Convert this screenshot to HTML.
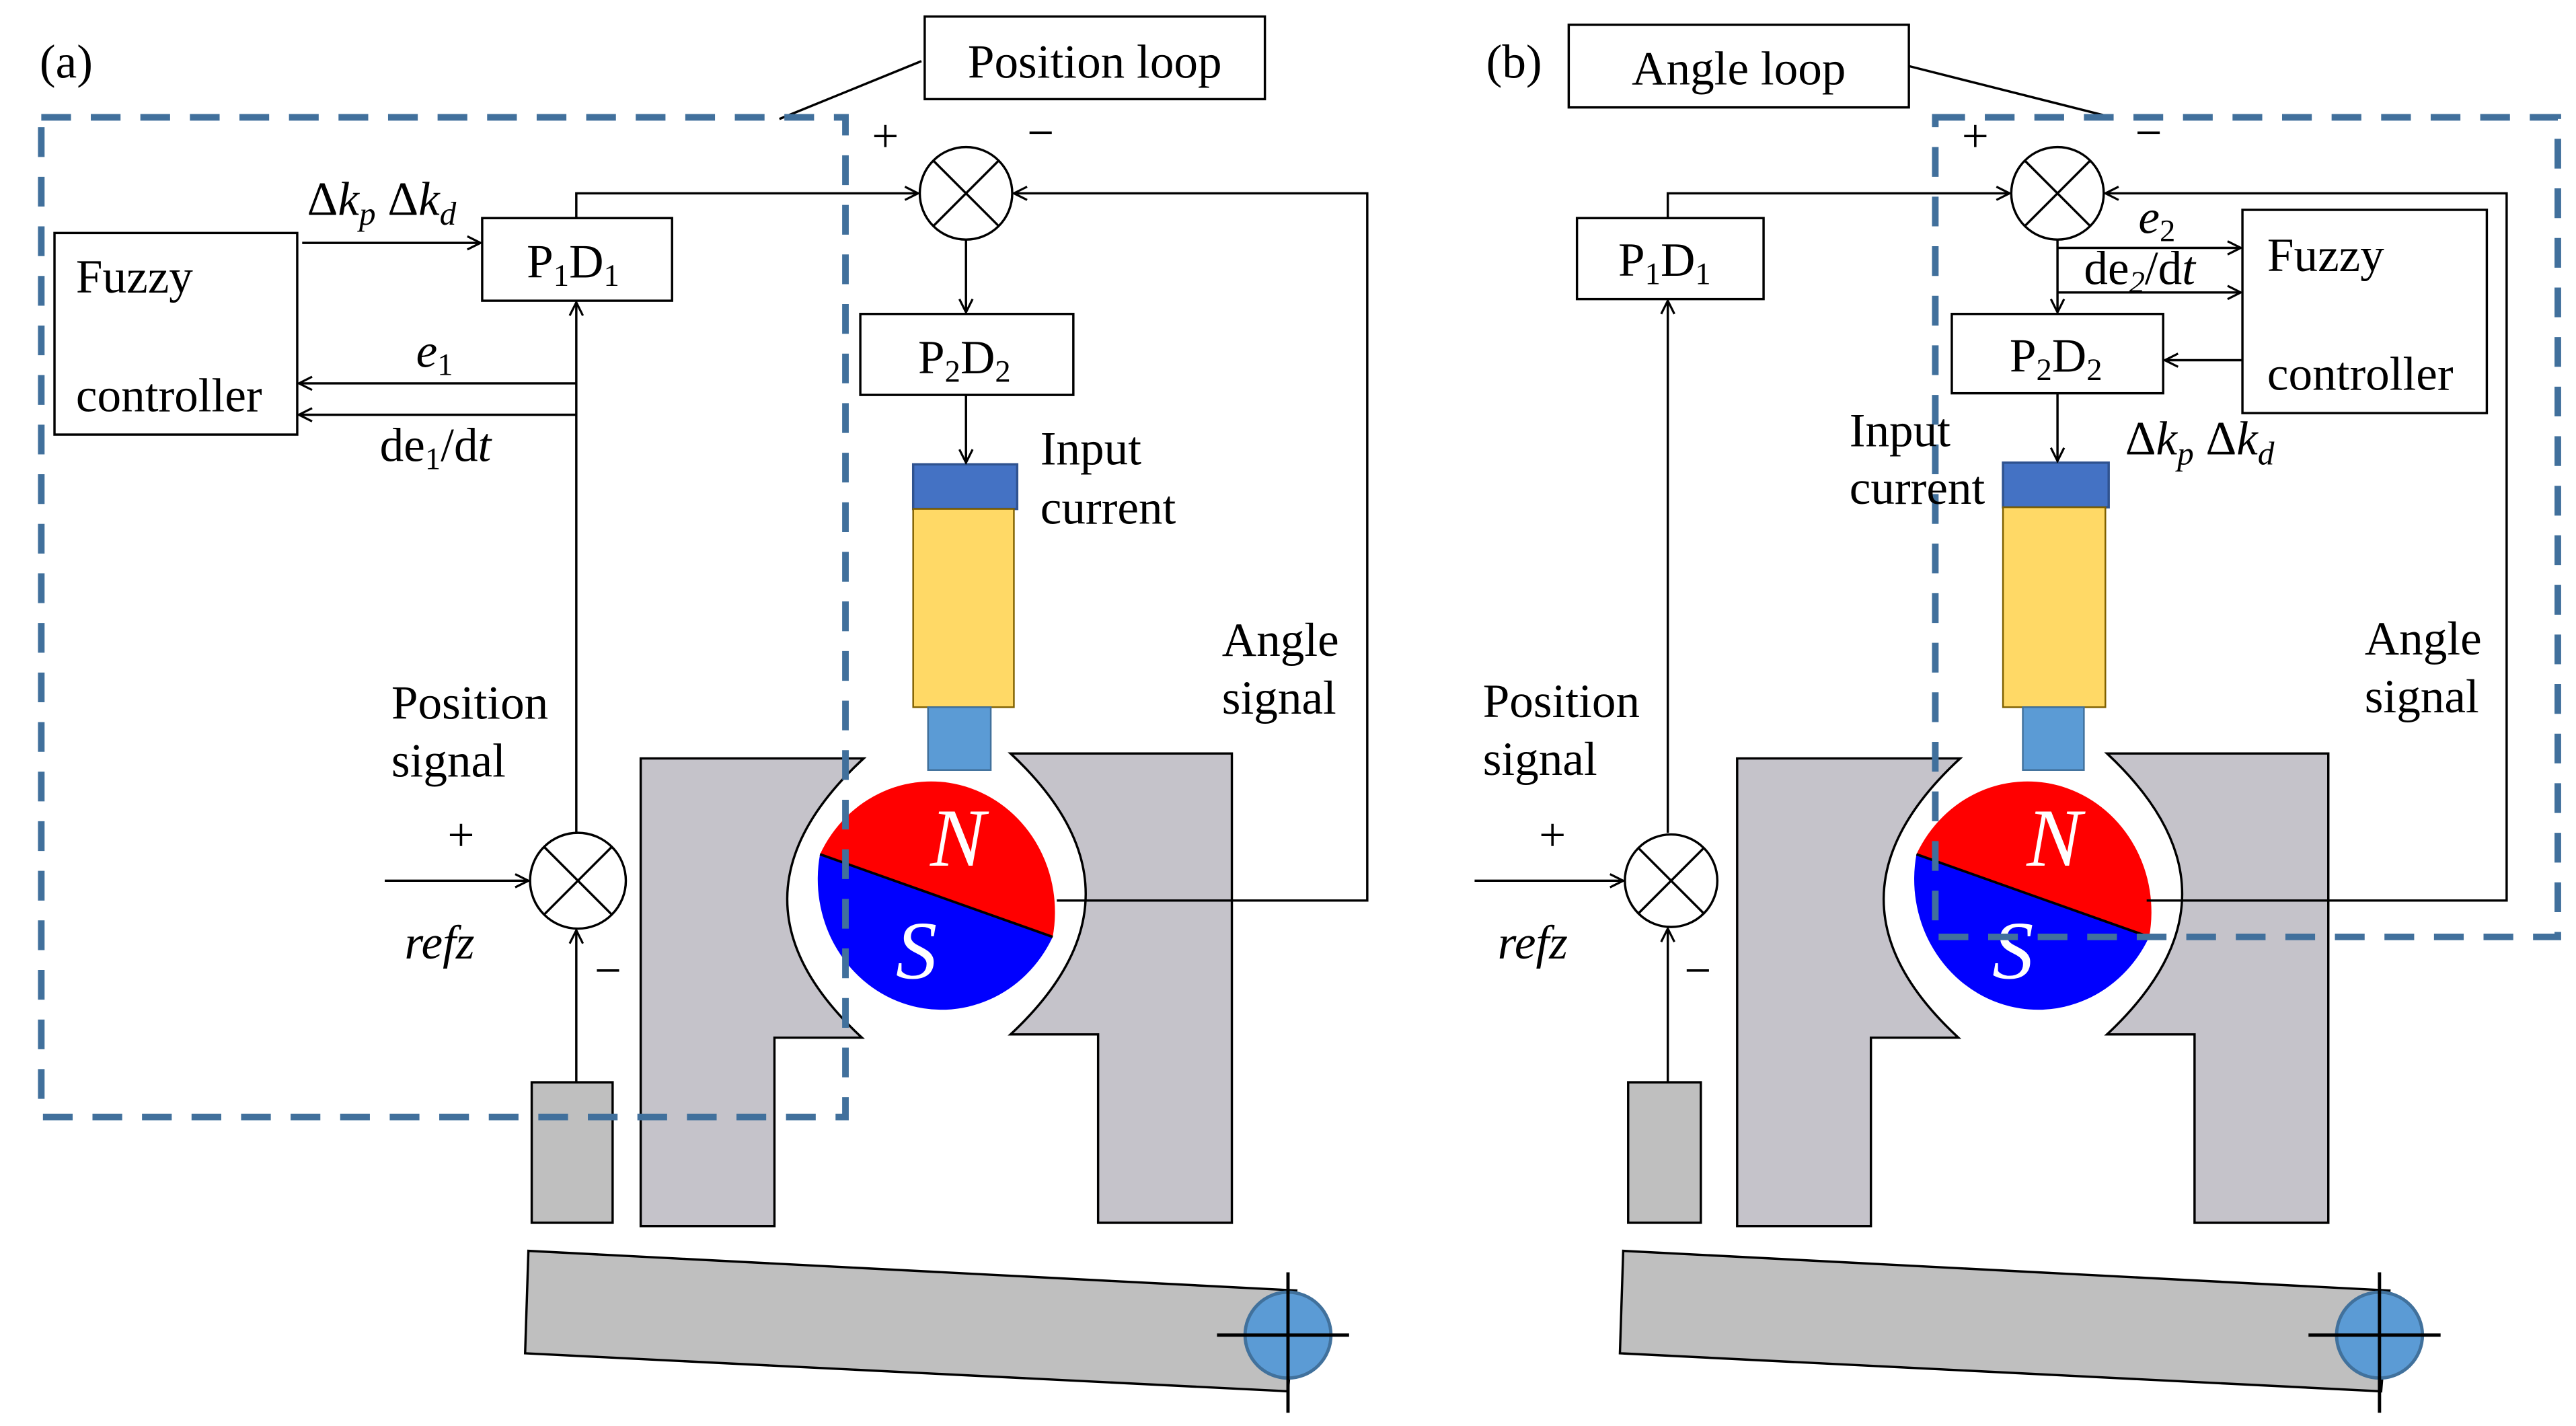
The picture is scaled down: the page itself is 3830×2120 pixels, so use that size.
<!DOCTYPE html>
<html><head><meta charset="utf-8"><style>
html,body{margin:0;padding:0;background:#fff;}
svg{display:block;}
text{font-family:"Liberation Serif",serif;fill:#000;}
</style></head><body>
<svg width="3830" height="2120" viewBox="0 0 1560 863" preserveAspectRatio="none" xmlns="http://www.w3.org/2000/svg">
<defs>
<marker id="ar" markerWidth="10" markerHeight="10" refX="9" refY="5" orient="auto" markerUnits="userSpaceOnUse">
<path d="M1,1 L9,5 L1,9" fill="none" stroke="#000" stroke-width="1.3"/>
</marker>
</defs>
<g stroke="#000" stroke-width="1.4" fill="none">

<path d="M388,459 L523,459 Q431,544 522,628 L469,628 L469,742 L388,742 Z" fill="#C5C3CA"/>
<path d="M612,456 L746,456 L746,740 L665,740 L665,626 L612,626 Q703,541 612,456 Z" fill="#C5C3CA"/>
<path d="M496.6,517 A75,79 0 0 1 637.5,567 Z" fill="#FF0000" stroke="none"/>
<path d="M496.6,517 L637.5,567 A75,79 0 0 1 496.6,517 Z" fill="#0000FF" stroke="none"/>
<line x1="496.6" y1="517" x2="637.5" y2="567" stroke-width="1.5"/>
<rect x="553" y="281" width="63" height="27" fill="#4472C4" stroke="#2F528F"/>
<rect x="553" y="308" width="61" height="120" fill="#FFD966" stroke="#7F6000" stroke-width="1"/>
<rect x="562" y="428" width="38" height="38" fill="#5B9BD5" stroke="#41719C" stroke-width="1"/>
<path d="M320,757 L785,781 L780,842 L318,819 Z" fill="#BFBFBF"/>
<circle cx="780" cy="808" r="26" fill="#5B9BD5" stroke="#41719C" stroke-width="2"/>
<line x1="737" y1="808" x2="817" y2="808" stroke-width="2"/>
<line x1="780" y1="770" x2="780" y2="855" stroke-width="2"/>
<rect x="322" y="655" width="49" height="85" fill="#BFBFBF"/>
<rect x="560" y="10" width="206" height="50" fill="#fff"/>
<line x1="558" y1="37" x2="472" y2="72"/>
<rect x="33" y="141" width="147" height="122" fill="#fff"/>
<rect x="292" y="132" width="115" height="50" fill="#fff"/>
<rect x="521" y="190" width="129" height="49" fill="#fff"/>
<circle cx="585" cy="117" r="28" fill="#fff"/>
<line x1="565.2" y1="97.2" x2="604.8" y2="136.8"/><line x1="604.8" y1="97.2" x2="565.2" y2="136.8"/>
<circle cx="350" cy="533" r="29" fill="#fff"/>
<line x1="329.5" y1="512.5" x2="370.5" y2="553.5"/><line x1="370.5" y1="512.5" x2="329.5" y2="553.5"/>
<line x1="183" y1="147" x2="291" y2="147" marker-end="url(#ar)"/>
<line x1="349" y1="232" x2="181" y2="232" marker-end="url(#ar)"/>
<line x1="349" y1="251" x2="181" y2="251" marker-end="url(#ar)"/>
<line x1="349" y1="504" x2="349" y2="183" marker-end="url(#ar)"/>
<polyline points="349,132 349,117 556,117" marker-end="url(#ar)"/>
<polyline points="640,545 828,545 828,117 614,117" marker-end="url(#ar)"/>
<line x1="585" y1="145" x2="585" y2="189" marker-end="url(#ar)"/>
<line x1="585" y1="239" x2="585" y2="280" marker-end="url(#ar)"/>
<line x1="233" y1="533" x2="320" y2="533" marker-end="url(#ar)"/>
<line x1="349" y1="655" x2="349" y2="563" marker-end="url(#ar)"/>

<path d="M1052,459 L1187,459 Q1095,544 1186,628 L1133,628 L1133,742 L1052,742 Z" fill="#C5C3CA"/>
<path d="M1276,456 L1410,456 L1410,740 L1329,740 L1329,626 L1276,626 Q1367,541 1276,456 Z" fill="#C5C3CA"/>
<path d="M1160.6,517 A75,79 0 0 1 1301.5,567 Z" fill="#FF0000" stroke="none"/>
<path d="M1160.6,517 L1301.5,567 A75,79 0 0 1 1160.6,517 Z" fill="#0000FF" stroke="none"/>
<line x1="1160.6" y1="517" x2="1301.5" y2="567" stroke-width="1.5"/>
<rect x="1213" y="280" width="64" height="27" fill="#4472C4" stroke="#2F528F"/>
<rect x="1213" y="307" width="62" height="121" fill="#FFD966" stroke="#7F6000" stroke-width="1"/>
<rect x="1225" y="428" width="37" height="38" fill="#5B9BD5" stroke="#41719C" stroke-width="1"/>
<path d="M983,757 L1447,781 L1442,842 L981,819 Z" fill="#BFBFBF"/>
<circle cx="1441" cy="808" r="26" fill="#5B9BD5" stroke="#41719C" stroke-width="2"/>
<line x1="1398" y1="808" x2="1478" y2="808" stroke-width="2"/>
<line x1="1441" y1="770" x2="1441" y2="855" stroke-width="2"/>
<rect x="986" y="655" width="44" height="85" fill="#BFBFBF"/>
<rect x="950" y="15" width="206" height="50" fill="#fff"/>
<line x1="1156" y1="40" x2="1275" y2="70"/>
<rect x="955" y="132" width="113" height="49" fill="#fff"/>
<rect x="1358" y="127" width="148" height="123" fill="#fff"/>
<rect x="1182" y="190" width="128" height="48" fill="#fff"/>
<circle cx="1246" cy="117" r="28" fill="#fff"/>
<line x1="1226.2" y1="97.2" x2="1265.8" y2="136.8"/><line x1="1265.8" y1="97.2" x2="1226.2" y2="136.8"/>
<circle cx="1012" cy="533" r="28" fill="#fff"/>
<line x1="992.2" y1="513.2" x2="1031.8" y2="552.8"/><line x1="1031.8" y1="513.2" x2="992.2" y2="552.8"/>
<polyline points="1010,132 1010,117 1217,117" marker-end="url(#ar)"/>
<polyline points="1300,545 1518,545 1518,117 1275,117" marker-end="url(#ar)"/>
<line x1="1246" y1="145" x2="1246" y2="189" marker-end="url(#ar)"/>
<line x1="1246" y1="150" x2="1357" y2="150" marker-end="url(#ar)"/>
<line x1="1246" y1="177" x2="1357" y2="177" marker-end="url(#ar)"/>
<line x1="1358" y1="218" x2="1311" y2="218" marker-end="url(#ar)"/>
<line x1="1246" y1="238" x2="1246" y2="279" marker-end="url(#ar)"/>
<line x1="893" y1="533" x2="983" y2="533" marker-end="url(#ar)"/>
<line x1="1010" y1="504" x2="1010" y2="182" marker-end="url(#ar)"/>
<line x1="1010" y1="655" x2="1010" y2="562" marker-end="url(#ar)"/>
</g>

<g font-style="italic" font-size="50" text-anchor="middle">
<text x="580" y="524" font-family="Liberation Serif, serif" style="fill:#fff">N</text>
<text x="555" y="592" font-family="Liberation Serif, serif" style="fill:#fff">S</text>
<text x="1244" y="524" font-family="Liberation Serif, serif" style="fill:#fff">N</text>
<text x="1219" y="592" font-family="Liberation Serif, serif" style="fill:#fff">S</text>
</g>

<rect x="25" y="71" width="487" height="605" fill="none" stroke="#41709C" stroke-width="4" stroke-dasharray="18,12"/>
<rect x="1172" y="71" width="377" height="496" fill="none" stroke="#41709C" stroke-width="4" stroke-dasharray="18,12"/>

<g font-size="29">
<text x="24" y="47">(a)</text>
<text x="663" y="47" text-anchor="middle">Position loop</text>
<text x="46" y="177">Fuzzy</text>
<text x="46" y="249">controller</text>
<text x="186" y="130">Δ<tspan font-style="italic">k</tspan><tspan font-style="italic" font-size="20" dy="6">p</tspan><tspan dy="-6"> Δ</tspan><tspan font-style="italic">k</tspan><tspan font-style="italic" font-size="20" dy="6">d</tspan></text>
<text x="319" y="168">P<tspan font-size="19" dy="5">1</tspan><tspan dy="-5">D</tspan><tspan font-size="19" dy="5">1</tspan></text>
<text x="556" y="226">P<tspan font-size="19" dy="5">2</tspan><tspan dy="-5">D</tspan><tspan font-size="19" dy="5">2</tspan></text>
<text x="252" y="222" font-style="italic">e<tspan font-style="normal" font-size="19" dy="5">1</tspan></text>
<text x="230" y="279">de<tspan font-size="19" dy="5">1</tspan><tspan dy="-5">/d</tspan><tspan font-style="italic">t</tspan></text>
<text x="528" y="92">+</text>
<text x="622" y="90">−</text>
<text x="630" y="281">Input</text>
<text x="630" y="317">current</text>
<text x="740" y="397">Angle</text>
<text x="740" y="432">signal</text>
<text x="237" y="435">Position</text>
<text x="237" y="470">signal</text>
<text x="271" y="515">+</text>
<text x="245" y="580" font-style="italic">refz</text>
<text x="360" y="597">−</text>

<text x="900" y="47">(b)</text>
<text x="1053" y="51" text-anchor="middle">Angle loop</text>
<text x="980" y="167">P<tspan font-size="19" dy="5">1</tspan><tspan dy="-5">D</tspan><tspan font-size="19" dy="5">1</tspan></text>
<text x="1217" y="225">P<tspan font-size="19" dy="5">2</tspan><tspan dy="-5">D</tspan><tspan font-size="19" dy="5">2</tspan></text>
<text x="1373" y="164">Fuzzy</text>
<text x="1373" y="236">controller</text>
<text x="1295" y="141" font-style="italic">e<tspan font-style="normal" font-size="19" dy="5">2</tspan></text>
<text x="1262" y="172">de<tspan font-size="19" dy="5" font-style="italic">2</tspan><tspan dy="-5">/d</tspan><tspan font-style="italic">t</tspan></text>
<text x="1287" y="275">Δ<tspan font-style="italic">k</tspan><tspan font-style="italic" font-size="20" dy="6">p</tspan><tspan dy="-6"> Δ</tspan><tspan font-style="italic">k</tspan><tspan font-style="italic" font-size="20" dy="6">d</tspan></text>
<text x="1188" y="92">+</text>
<text x="1293" y="90">−</text>
<text x="1120" y="270">Input</text>
<text x="1120" y="305">current</text>
<text x="1432" y="396">Angle</text>
<text x="1432" y="431">signal</text>
<text x="898" y="434">Position</text>
<text x="898" y="469">signal</text>
<text x="932" y="515">+</text>
<text x="907" y="580" font-style="italic">refz</text>
<text x="1020" y="597">−</text>
</g>
</svg>
</body></html>
